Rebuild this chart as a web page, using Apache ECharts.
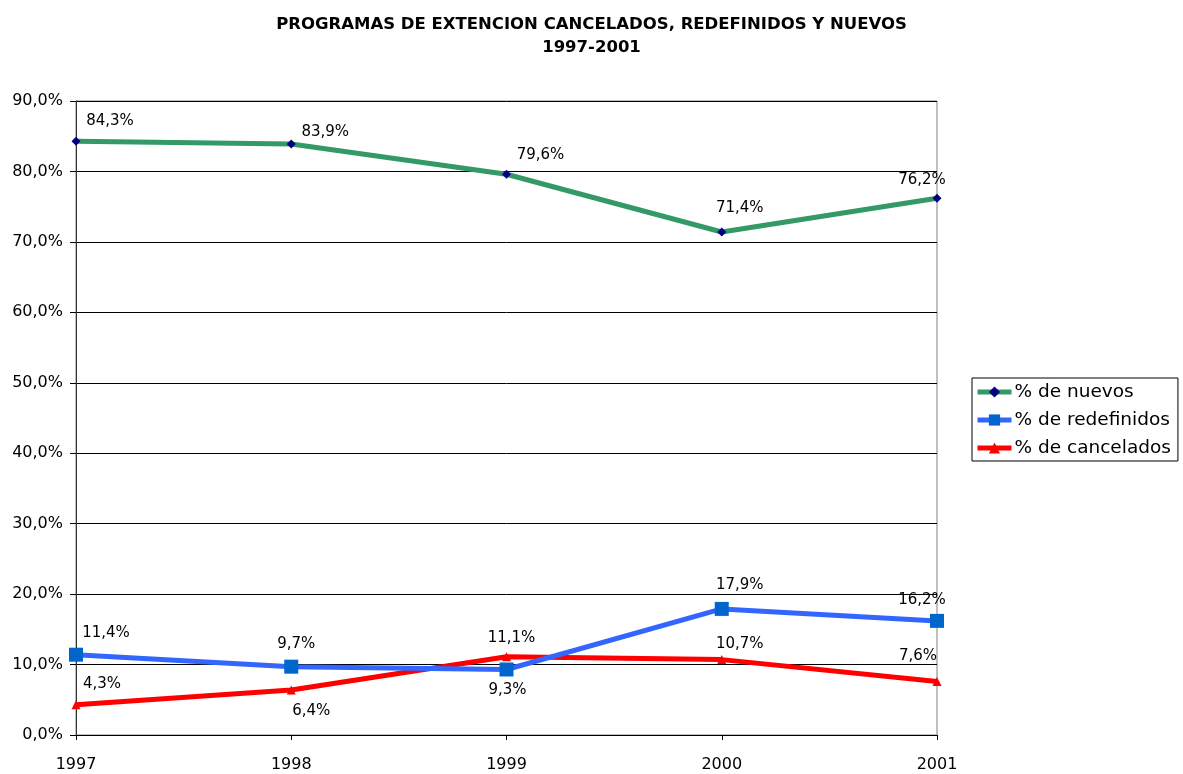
<!DOCTYPE html>
<html><head><meta charset="utf-8">
<script src="https://cdn.jsdelivr.net/npm/echarts@6/dist/echarts.min.js"></script>
<style>html,body{margin:0;padding:0;background:#fff}#c{width:1183px;height:774px}</style>
</head><body><div id="c"></div>
<script>
const years = ['1997','1998','1999','2000','2001'];
const nuevos = [84.3, 83.9, 79.6, 71.4, 76.2];
const redefinidos = [11.4, 9.7, 9.3, 17.9, 16.2];
const cancelados = [4.3, 6.4, 11.1, 10.7, 7.6];
const seriesNames = ['% de nuevos', '% de redefinidos', '% de cancelados'];
const titleLines = ['PROGRAMAS DE EXTENCION CANCELADOS, REDEFINIDOS Y NUEVOS', '1997-2001'];

// label offsets (style only)
const offN = [[34,-20],[34,-12],[34,-19],[18,-24],[-15,-18]];
const offR = [[30,-22],[5,-23],[1,21],[18,-24],[-15,-21]];
const offC = [[26,-21],[20,21],[5,-19],[18,-16],[-19,-25]];

const FONT = 'DejaVu Sans, Verdana, sans-serif';
const fmt = v => v.toFixed(1).replace('.', ',') + '%';
function pts(vals, offs){
  return vals.map((v,i)=>({value:v, label:{offset:offs[i]}}));
}
const lbl = {show:true, position:'inside', color:'#000', fontSize:15, fontFamily:FONT,
  formatter: p => fmt(p.value)};

const chart = echarts.init(document.getElementById('c'));
chart.setOption({
  animation:false,
  backgroundColor:'#fff',
  title:{text: titleLines.join('\n'), left:'center', top:8,
    textStyle:{fontFamily:FONT, fontWeight:'bold', fontSize:16.5, color:'#000', lineHeight:23}},
  grid:{left:76, right:246, top:101, bottom:39, show:true, borderColor:'#808080', borderWidth:1},
  legend:{orient:'vertical', left:972, top:378, padding:[4,7,3,3], itemGap:8,
    borderColor:'#000', borderWidth:1, backgroundColor:'#fff',
    itemWidth:34, itemHeight:14,
    lineStyle:{width:5},
    textStyle:{fontFamily:FONT, fontSize:18.5, color:'#000', lineHeight:20, padding:[0,0,0,-2]},
    data: seriesNames},
  xAxis:{type:'category', data:years, boundaryGap:false,
    axisLine:{lineStyle:{color:'#000', width:1}},
    axisTick:{show:true, alignWithLabel:true, length:5, lineStyle:{color:'#000'}},
    axisLabel:{color:'#000', fontSize:16, fontFamily:FONT, margin:22},
    splitLine:{show:false}},
  yAxis:{type:'value', min:0, max:90, interval:10,
    axisLine:{show:true, lineStyle:{color:'#333'}},
    axisTick:{show:true, length:6, lineStyle:{color:'#000'}},
    axisLabel:{color:'#000', fontSize:16, fontFamily:FONT, margin:13,
      formatter: v => v.toFixed(1).replace('.', ',') + '%'},
    splitLine:{lineStyle:{color:'#000', width:1}}},
  series:[
    {name:seriesNames[0], type:'line', data:pts(nuevos, offN), symbol:'diamond', symbolSize:9,
      lineStyle:{color:'#339966', width:5}, itemStyle:{color:'#000080'}, label:lbl, z:3},
    {name:seriesNames[1], type:'line', data:pts(redefinidos, offR), symbol:'rect', symbolSize:14,
      lineStyle:{color:'#3366FF', width:5}, itemStyle:{color:'#0066CC'}, label:lbl, z:2},
    {name:seriesNames[2], type:'line', data:pts(cancelados, offC), symbol:'triangle', symbolSize:9,
      lineStyle:{color:'#FF0000', width:5}, itemStyle:{color:'#FF0000'}, label:lbl, z:1}
  ]
});
</script></body></html>
